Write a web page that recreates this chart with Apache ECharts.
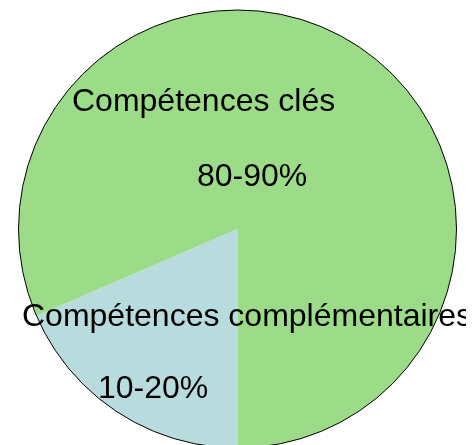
<!DOCTYPE html>
<html>
<head>
<meta charset="utf-8">
<script src="https://cdn.jsdelivr.net/npm/echarts@6/dist/echarts.min.js"></script>
<style>
html,body{margin:0;padding:0;background:#fff;}
#c{width:466px;height:445px;}
</style>
</head>
<body>
<div id="c"></div>
<script>
// Data
const categories = ['Compétences complémentaires', 'Compétences clés'];
const shares = [18.5, 81.5];
const rangeLabels = ['10-20%', '80-90%'];
const sliceColors = ['#b8dbde', '#9cdc88'];

// Layout
const center = [237.5, 229];
const radius = 219;
const FONT = '32px "Liberation Sans", Arial, sans-serif';
const namePos = [[22, 317], [72, 102]];
const rangePos = [[98, 389], [197, 177]];

const chart = echarts.init(document.getElementById('c'), null, {renderer: 'canvas'});

const graphics = [];
categories.forEach((name, i) => {
  graphics.push({type: 'text', x: namePos[i][0], y: namePos[i][1], z: 100,
    style: {text: name, font: FONT, fill: '#000', textAlign: 'left', textVerticalAlign: 'middle'}});
  graphics.push({type: 'text', x: rangePos[i][0], y: rangePos[i][1], z: 100,
    style: {text: rangeLabels[i], font: FONT, fill: '#000', textAlign: 'left', textVerticalAlign: 'middle'}});
});

chart.setOption({
  animation: false,
  backgroundColor: '#fff',
  series: [
    {
      type: 'pie',
      center: center,
      radius: [0, radius],
      startAngle: -90,
      clockwise: true,
      silent: true,
      label: {show: false},
      labelLine: {show: false},
      itemStyle: {borderWidth: 0},
      data: categories.map((n, i) => ({name: n, value: shares[i], itemStyle: {color: sliceColors[i]}}))
    },
    {
      type: 'pie',
      center: center,
      radius: [0, radius],
      silent: true,
      z: 3,
      label: {show: false},
      labelLine: {show: false},
      itemStyle: {color: 'rgba(0,0,0,0)', borderColor: '#000', borderWidth: 1},
      data: [{name: 'outline', value: 1}]
    }
  ],
  graphic: graphics
});
</script>
</body>
</html>
